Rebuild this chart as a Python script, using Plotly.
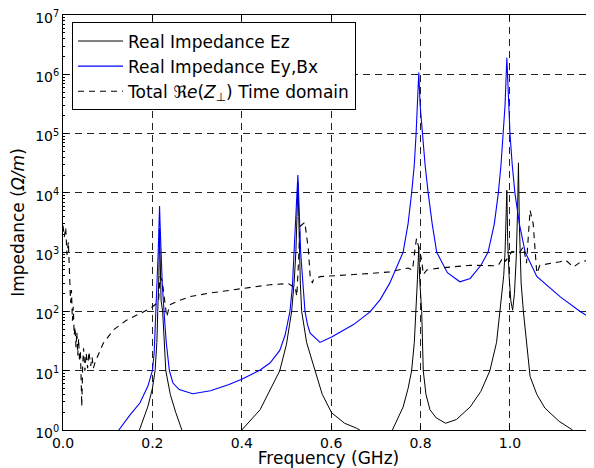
import plotly.graph_objects as go

# Real impedance Ez (black, solid)
ez_freq = [0.160, 0.171, 0.190, 0.200, 0.206, 0.210, 0.212, 0.2145, 0.216, 0.2175, 0.2195, 0.223,
           0.226, 0.230, 0.240, 0.252, 0.266, 0.280, 0.380, 0.400, 0.441, 0.465, 0.485, 0.500,
           0.5115, 0.517, 0.521, 0.5235, 0.5255, 0.5275, 0.5285, 0.531, 0.534, 0.545, 0.564, 0.580,
           0.601, 0.630, 0.657, 0.664, 0.680, 0.720, 0.737, 0.761, 0.772, 0.780, 0.786, 0.790,
           0.793, 0.796, 0.798, 0.8025, 0.806, 0.812, 0.821, 0.835, 0.856, 0.880, 0.911, 0.935,
           0.955, 0.970, 0.978, 0.986, 0.989, 0.991, 0.993, 0.995, 0.998, 1.002, 1.006, 1.010,
           1.014, 1.017, 1.019, 1.021, 1.025, 1.030, 1.045, 1.060, 1.078, 1.110, 1.140, 1.160]
ez_imp = [0.5, 1.0, 2.5, 5, 10, 30, 100, 400, 2500, 400, 150, 100,
          30, 10, 4, 2, 1.0, 0.5, 0.5, 1.0, 2.2, 5, 10, 28,
          100, 300, 1000, 4000, 1.5e4, 4000, 1000, 300, 100, 30, 10, 4,
          1.95, 1.3, 1.07, 1.0, 0.5, 0.5, 1.0, 2.45, 5, 10, 30, 100,
          350, 1230, 350, 100, 10, 4, 2.2, 1.6, 1.3, 1.5, 2.45, 4.5,
          10, 30, 100, 400, 1000, 4000, 1.1e4, 1500, 400, 150, 105, 200,
          800, 5000, 3.2e4, 3000, 300, 100, 8, 4, 2.35, 1.4, 1.0, 0.6]

# Real impedance Ey,Bx (blue, solid)
eybx_freq = [0.100, 0.125, 0.150, 0.172, 0.190, 0.200, 0.204, 0.208, 0.211, 0.213, 0.2148, 0.216,
             0.2172, 0.219, 0.222, 0.226, 0.231, 0.238, 0.246, 0.260, 0.290, 0.330, 0.370, 0.400,
             0.441, 0.463, 0.485, 0.497, 0.5077, 0.513, 0.5175, 0.521, 0.5235, 0.5255, 0.5275, 0.529,
             0.5317, 0.536, 0.5414, 0.547, 0.553, 0.575, 0.601, 0.650, 0.687, 0.710, 0.731, 0.761,
             0.772, 0.780, 0.786, 0.790, 0.793, 0.796, 0.799, 0.804, 0.810, 0.817, 0.826, 0.836,
             0.860, 0.888, 0.911, 0.935, 0.951, 0.965, 0.974, 0.980, 0.985, 0.989, 0.993, 0.9965,
             1.000, 1.005, 1.011, 1.021, 1.034, 1.060, 1.112, 1.157, 1.190]
eybx_imp = [0.5, 1.0, 1.8, 2.85, 5.5, 10, 20, 100, 300, 1000, 3000, 6000,
            3000, 1000, 300, 100, 30, 10, 6.2, 4.8, 4.1, 4.6, 5.8, 7.2,
            10.3, 13.5, 22, 40, 100, 250, 1000, 4000, 1.0e4, 2.0e4, 1.0e4, 4000,
            1000, 300, 100, 60, 43, 30, 37, 60, 98, 160, 300, 1000,
            3000, 1.0e4, 3.0e4, 1.0e5, 3.0e5, 1.07e6, 3.0e5, 1.0e5, 3.0e4, 1.0e4, 3000, 1000,
            450, 316, 360, 600, 1000, 3000, 1.0e4, 3.0e4, 1.0e5, 3.0e5, 1.9e6, 3.0e5,
            1.0e5, 3.0e4, 1.0e4, 3000, 1000, 390, 178, 100, 70]

# Total Re(Z_perp), time domain (black, dashed)
td_freq = [0.000, 0.003, 0.006, 0.009, 0.012, 0.015, 0.017, 0.019, 0.021, 0.023, 0.025, 0.027,
           0.029, 0.031, 0.033, 0.035, 0.037, 0.039, 0.042, 0.044, 0.046, 0.049, 0.052, 0.055,
           0.058, 0.062, 0.065, 0.068, 0.072, 0.090, 0.113, 0.142, 0.172, 0.196, 0.210, 0.214,
           0.217, 0.222, 0.232, 0.236, 0.239, 0.262, 0.284, 0.330, 0.400, 0.463, 0.504, 0.515,
           0.519, 0.523, 0.527, 0.530, 0.541, 0.549, 0.553, 0.558, 0.560, 0.575, 0.687, 0.731,
           0.772, 0.782, 0.788, 0.791, 0.796, 0.8025, 0.806, 0.814, 0.843, 0.911, 0.966, 0.975,
           0.985, 0.990, 1.004, 1.015, 1.022, 1.030, 1.037, 1.045, 1.052, 1.060, 1.067, 1.112,
           1.125, 1.142, 1.160, 1.190]
td_imp = [2800, 1800, 2600, 900, 1500, 250, 140, 230, 70, 120, 40, 55,
          25, 45, 18, 35, 14, 22, 2.5, 12, 24, 10, 20, 11,
          21, 12, 17, 11, 14, 29, 49, 71, 93, 113, 138, 160,
          390, 330, 81, 110, 130, 155, 178, 205, 245, 282, 295, 263,
          270, 180, 700, 2700, 3200, 1100, 390, 300, 340, 386, 437, 465,
          540, 500, 1200, 1700, 1200, 740, 420, 500, 540, 600, 590, 620,
          830, 700, 1020, 1020, 1000, 1230, 650, 5100, 3000, 440, 600, 690,
          730, 560, 700, 740]

y_exps = list(range(0, 8))
x_ticks = [0.0, 0.2, 0.4, 0.6, 0.8, 1.0]

fig = go.Figure()

fig.add_trace(go.Scatter(x=ez_freq, y=ez_imp, mode="lines", name="Real Impedance Ez",
                         line=dict(color="black", width=1)))
fig.add_trace(go.Scatter(x=eybx_freq, y=eybx_imp, mode="lines", name="Real Impedance Ey,Bx",
                         line=dict(color="#0000ff", width=1.1)))
fig.add_trace(go.Scatter(x=td_freq, y=td_imp, mode="lines",
                         name="Total ℜ<i>e</i>(<i>Z</i><sub>⊥</sub>) Time domain",
                         line=dict(color="black", width=1.1, dash="6px,5px")))

# minor ticks between decades, like matplotlib's log locator
minor_vals = [m * 10 ** e for e in y_exps[:-1] for m in range(2, 10)]

# the page body keeps its default 8px margin, so the figure is 8px smaller
fig.update_layout(
    width=586,
    height=460,
    margin=dict(l=55, r=0, t=7, b=38),
    paper_bgcolor="white",
    plot_bgcolor="white",
    font=dict(family="DejaVu Sans", size=14, color="black"),
    showlegend=True,
    legend=dict(
        x=0.017, y=0.982, xanchor="left", yanchor="top",
        bgcolor="white", bordercolor="black", borderwidth=1,
        font=dict(size=17), tracegroupgap=0, itemwidth=45,
    ),
    xaxis=dict(
        range=[0, 1.188],
        tickvals=x_ticks,
        ticktext=[f"{v:.1f}" for v in x_ticks],
        ticks="inside", ticklen=5, tickcolor="black",
        showline=True, linecolor="black", linewidth=1, mirror="ticks",
        showgrid=True, gridcolor="#222", griddash="7px,5px", gridwidth=1,
        zeroline=False, automargin=False, ticklabeloverflow="allow",
        title=dict(text="Frequency (GHz)"),
    ),
    yaxis=dict(
        type="log",
        range=[0, 7],
        tickvals=[10 ** e for e in y_exps],
        ticktext=[f"10<sup>{e}</sup>" for e in y_exps],
        ticks="inside", ticklen=5, tickcolor="black",
        showline=True, linecolor="black", linewidth=1, mirror=False,
        showgrid=True, gridcolor="#222", griddash="7px,5px", gridwidth=1,
        zeroline=False, automargin=False, ticklabeloverflow="allow",
        ticklabelshift=3,
        minor=dict(tickvals=minor_vals, ticks="inside", ticklen=2, tickcolor="black", showgrid=False),
        title=dict(text="Impedance (<i>Ω/m</i>)", standoff=10),
    ),
)

fig.write_html("out.html")
